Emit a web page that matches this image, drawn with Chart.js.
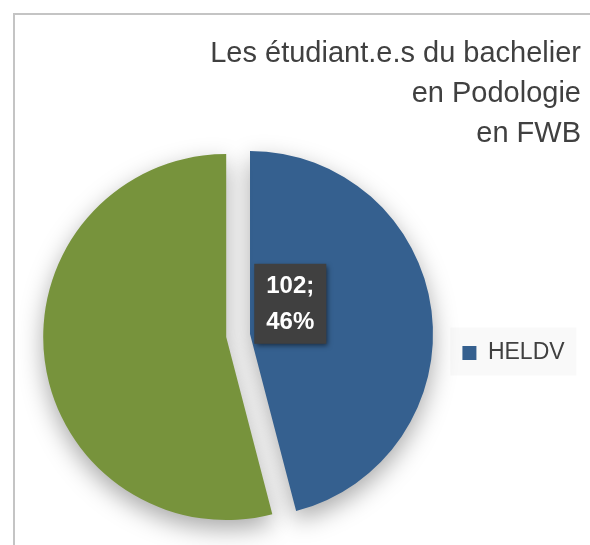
<!DOCTYPE html>
<html>
<head>
<meta charset="utf-8">
<script src="https://cdn.jsdelivr.net/npm/chart.js@4"></script>
<style>
    body { margin: 0; background: #fff; }
    #wrap { position: relative; width: 590px; height: 545px; overflow: hidden; }
    #frame { position: absolute; left: 13px; top: 13px; width: 700px; height: 700px;
             border-top: 2px solid #c4c4c4; border-left: 2px solid #c4c4c4; }
    canvas { position: absolute; left: 0; top: 0; }
</style>
</head>
<body>
<div id="wrap">
    <div id="frame"></div>
    <canvas id="pieChart" width="590" height="545"></canvas>
</div>
<script>
var categories = ["HELDV", "Autres"];
var studentCounts = [102, 120];
var sliceColors = ["#35608f", "#77933c"];
var titleLines = ["Les étudiant.e.s du bachelier", "en Podologie", "en FWB"];

var fontFamily = "'Liberation Sans', Arial, sans-serif";
var explode = 24;

// pull the first slice out of the pie without growing its radius
var explodePlugin = {
    id: "explode",
    afterDatasetsUpdate: function (chart) {
        var arc = chart.getDatasetMeta(0).data[0];
        var mid = (arc.startAngle + arc.endAngle) / 2;
        arc.x += Math.cos(mid) * explode;
        arc.y += Math.sin(mid) * explode;
    }
};

// faint panel behind the legend
var legendPanelPlugin = {
    id: "legendPanel",
    beforeDraw: function (chart) {
        var box = chart.legend.legendHitBoxes[0];
        if (!box) return;
        var ctx = chart.ctx;
        ctx.save();
        ctx.fillStyle = "#f9f9f9";
        ctx.fillRect(box.left - 12, box.top - 14, 126, 48);
        ctx.restore();
    }
};

// soft shadow under the slices + the value label box
var shadowLabelPlugin = {
    id: "shadowLabel",
    beforeDatasetsDraw: function (chart) {
        var ctx = chart.ctx;
        ctx.save();
        ctx.shadowColor = "rgba(0, 0, 0, 0.34)";
        ctx.shadowBlur = 24;
        ctx.shadowOffsetY = 9;
    },
    afterDatasetsDraw: function (chart) {
        var ctx = chart.ctx;
        ctx.restore();

        var total = studentCounts.reduce(function (a, b) { return a + b; }, 0);
        var arc = chart.getDatasetMeta(0).data[0];
        var r = arc.outerRadius;
        var lx = arc.x + r * 0.22;
        var ly = arc.y - r * 0.165;
        var lines = [studentCounts[0] + ";", Math.round(studentCounts[0] / total * 100) + "%"];

        ctx.save();
        ctx.font = "bold 24px " + fontFamily;
        var w = Math.max(ctx.measureText(lines[0]).width, ctx.measureText(lines[1]).width) + 24;
        var h = 80;
        ctx.shadowColor = "rgba(0, 0, 0, 0.55)";
        ctx.shadowBlur = 5;
        ctx.shadowOffsetX = 2;
        ctx.shadowOffsetY = 2;
        ctx.fillStyle = "#404040";
        ctx.fillRect(lx - w / 2, ly - h / 2, w, h);
        ctx.shadowColor = "transparent";
        ctx.fillStyle = "#ffffff";
        ctx.textAlign = "center";
        ctx.textBaseline = "middle";
        ctx.fillText(lines[0], lx, ly - 17);
        ctx.fillText(lines[1], lx, ly + 19);
        ctx.restore();
    }
};

var pieCtx = document.getElementById("pieChart").getContext("2d");
var pieChart = new Chart(pieCtx, {
    type: "pie",
    data: {
        labels: categories,
        datasets: [{
            data: studentCounts,
            backgroundColor: sliceColors,
            borderWidth: 0,
            radius: 183
        }]
    },
    options: {
        responsive: false,
        animation: false,
        layout: { padding: { top: 0, left: 0, right: 9, bottom: 25 } },
        plugins: {
            title: {
                display: true,
                text: titleLines,
                align: "end",
                color: "#404040",
                font: { family: fontFamily, size: 29, weight: "normal", lineHeight: 1.38 },
                padding: { top: 34, bottom: 0 }
            },
            legend: {
                position: "right",
                fullSize: false,
                align: "center",
                title: {
                    display: true,
                    text: " ",
                    font: { size: 1, lineHeight: 1 },
                    padding: { top: 31, bottom: 0 }
                },
                labels: {
                    boxWidth: 14,
                    boxHeight: 14,
                    padding: 10,
                    color: "#404040",
                    font: { family: fontFamily, size: 23 },
                    generateLabels: function (chart) {
                        var items = Chart.overrides.pie.plugins.legend.labels.generateLabels(chart);
                        items.forEach(function (it) { it.text = it.text + " "; it.lineWidth = 0; });
                        return items;
                    },
                    filter: function (item) { return item.index === 0; }
                }
            },
            tooltip: { enabled: false }
        }
    },
    plugins: [explodePlugin, legendPanelPlugin, shadowLabelPlugin]
});
</script>
</body>
</html>
